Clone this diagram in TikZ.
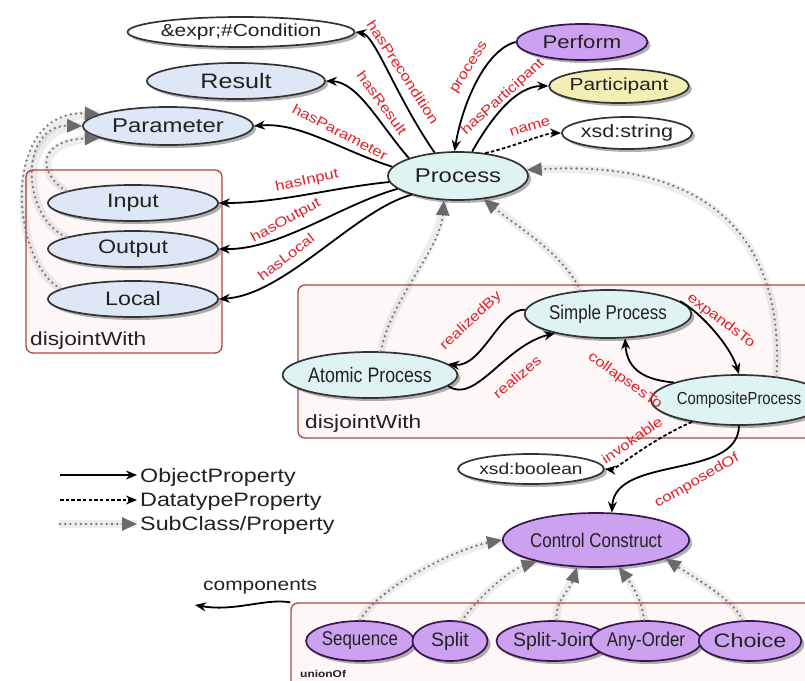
\documentclass[tikz,border=0pt]{standalone}
\usepackage{fontspec}
\setmainfont{Liberation Sans}
\newfontfamily\widesf[FakeStretch=1.2]{Liberation Sans}
\newfontfamily\narrowsf[FakeStretch=0.85]{Liberation Sans}
\usetikzlibrary{arrows.meta,shapes.geometric,shadows}

\definecolor{clsfill}{RGB}{222,231,246}
\definecolor{procfill}{RGB}{224,243,243}
\definecolor{ctrlfill}{RGB}{204,162,240}
\definecolor{ctrldraw}{RGB}{58,22,78}
\definecolor{partfill}{RGB}{243,239,180}
\definecolor{lblred}{RGB}{226,32,40}
\definecolor{boxred}{RGB}{172,72,72}
\definecolor{boxfill}{RGB}{253,247,247}
\definecolor{inkgray}{RGB}{34,34,34}

\tikzset{
  wf/.style={font=\widesf\fontsize{#1}{#1}\selectfont},
  nf/.style={font=\narrowsf\fontsize{#1}{#1}\selectfont},
  rf/.style={font=\fontsize{#1}{#1}\selectfont},
  onto/.style={ellipse, draw=black!80, line width=1.7bp, inner sep=0pt, text=inkgray,
    drop shadow={shadow xshift=3bp, shadow yshift=-3bp, opacity=0.3, fill=black}},
  clsnode/.style={onto, fill=clsfill},
  procnode/.style={onto, fill=procfill},
  ctrlnode/.style={onto, fill=ctrlfill, draw=ctrldraw},
  litnode/.style={onto, fill=white},
  lbl/.style={text=lblred, wf=14, inner sep=0pt},
  legtext/.style={text=inkgray, wf=19.5, inner sep=0pt},
  objarrow/.style={draw=black, line width=1.8bp, -{Stealth[length=11bp,width=9bp]}},
  dtarrow/.style={objarrow, dash pattern=on 3.5bp off 2.2bp},
  subarrow/.style={draw=black!52, line width=2.6bp, line cap=round,
    dash pattern=on 0bp off 5.2bp,
    preaction={draw=black, opacity=0.07, line width=8bp, solid, arrows=-},
    -{Triangle[length=15bp,width=13bp,fill=black!58,color=black!58]}},
  groupbox/.style={draw=boxred, line width=1.3bp, rounded corners=7bp, fill=boxfill, inner sep=0pt},
}

\begin{document}
\begin{tikzpicture}[x=1bp,y=-1bp]
\fill[white] (0,0) rectangle (805,681);
\useasboundingbox (0,0) rectangle (805,681);

% grouping boxes
\node[groupbox, minimum width=196bp, minimum height=183bp] (djA) at (124,261.5) {};
\node[groupbox, minimum width=514bp, minimum height=153bp] (djB) at (555,361.5) {};
\node[groupbox, minimum width=521bp, minimum height=90bp] (unB) at (551.5,648) {};
\node[text=inkgray, wf=19, inner sep=0pt, anchor=base west] (djAt) at (30,345) {disjointWith};
\node[text=inkgray, wf=19, inner sep=0pt, anchor=base west] (djBt) at (305,428) {disjointWith};
\node[text=inkgray, font=\widesf\bfseries\fontsize{10}{10}\selectfont, inner sep=0pt, anchor=base west] (unBt) at (300,677) {unionOf};

% classes
\node[litnode, minimum width=167bp, minimum height=30bp, wf=17.5] (cond) at (241,32) {\&expr;\#Condition};
\node[clsnode, minimum width=178bp, minimum height=36bp, wf=21] (res) at (236,81) {Result};
\node[clsnode, minimum width=170bp, minimum height=38bp, wf=20] (par) at (168,126) {Parameter};
\node[ctrlnode, minimum width=131bp, minimum height=36bp, wf=18.5] (perf) at (582,42) {Perform};
\node[onto, fill=partfill, minimum width=113bp, minimum height=34bp, wf=17.5] (part) at (619,86) {Participant};
\node[litnode, minimum width=102bp, minimum height=32bp, wf=18] (xstr) at (627,133) {xsd:string};
\node[procnode, minimum width=140bp, minimum height=48bp, wf=20] (proc) at (458,176) {Process};
\node[clsnode, minimum width=170bp, minimum height=36bp, wf=19.5] (inp) at (133,203) {Input};
\node[clsnode, minimum width=170bp, minimum height=36bp, wf=19.5] (outp) at (133,249) {Output};
\node[clsnode, minimum width=170bp, minimum height=36bp, wf=19.5] (loc) at (133,299) {Local};
\node[procnode, minimum width=130bp, minimum height=48bp, nf=20] (simp) at (608,314) {Simple Process};
\node[procnode, minimum width=131bp, minimum height=46bp, nf=21] (atom) at (370,375) {Atomic Process};
\node[procnode, minimum width=134bp, minimum height=50bp, nf=17.5] (comp) at (739,400) {CompositeProcess};
\node[litnode, minimum width=101bp, minimum height=30bp, wf=16] (xbool) at (531,469) {xsd:boolean};
\node[ctrlnode, minimum width=133bp, minimum height=54bp, nf=20] (cc) at (596,540) {Control Construct};
\node[ctrlnode, minimum width=85bp, minimum height=40bp, nf=20] (seq) at (360,641) {Sequence};
\node[ctrlnode, minimum width=75bp, minimum height=40bp, rf=19.5] (spl) at (450,641) {Split};
\node[ctrlnode, minimum width=86bp, minimum height=40bp, rf=19.5] (spj) at (553,641) {Split-Join};
\node[ctrlnode, minimum width=84bp, minimum height=40bp, nf=20] (ano) at (646,641) {Any-Order};
\node[ctrlnode, minimum width=101bp, minimum height=40bp, wf=19.5] (cho) at (750,641) {Choice};

% object properties of Process
\draw[objarrow] (proc.135) .. controls (395,95) and (375,35) .. (cond.east);
\draw[objarrow] (proc.160) .. controls (380,125) and (358,82) .. (res.east);
\draw[objarrow] (proc.172) .. controls (340,150) and (300,122) .. (par.east);
\draw[objarrow] (proc.185) .. controls (330,188) and (280,203) .. (inp.east);
\draw[objarrow] (proc.192) .. controls (340,205) and (280,250) .. (outp.east);
\draw[objarrow] (proc.202) .. controls (355,210) and (285,295) .. (loc.east);
\draw[objarrow] (perf.west) .. controls (485,50) and (462,105) .. (proc.98);
\draw[objarrow] (proc.60) .. controls (490,120) and (515,86) .. (part.west);
\draw[dtarrow] (proc.40) .. controls (510,148) and (545,133) .. (xstr.west);

% process kinds
\draw[objarrow] (simp.177) .. controls (500,308) and (482,368) .. (atom.8);
\draw[objarrow] (atom.-8) .. controls (475,405) and (505,345) .. (simp.200);
\draw[objarrow] (simp.10) .. controls (700,312) and (730,345) .. (comp.north);
\draw[objarrow] (comp.165) .. controls (648,380) and (627,372) .. (simp.-55);
\draw[dtarrow] (comp.205) .. controls (650,440) and (615,470) .. (xbool.east);
\draw[objarrow] (comp.-90) .. controls (738,480) and (615,455) .. (cc.60);

% subclass links
\draw[subarrow] (atom.65) .. controls (390,300) and (440,250) .. (proc.-120);
\draw[subarrow] (simp.140) .. controls (565,255) and (515,225) .. (proc.-42);
\draw[subarrow] (comp.32) .. controls (785,230) and (700,160) .. (proc.5);
\draw[subarrow] (loc.172) .. controls (10,260) and (0,110) .. (par.170);
\draw[subarrow] (outp.170) .. controls (20,215) and (20,125) .. (par.180);
\draw[subarrow] (inp.170) .. controls (35,170) and (40,140) .. (par.190);
\draw[subarrow] (seq.north) .. controls (380,585) and (460,548) .. (cc.180);
\draw[subarrow] (spl.60) .. controls (480,595) and (510,570) .. (cc.200);
\draw[subarrow] (spj.80) .. controls (555,600) and (570,590) .. (cc.235);
\draw[subarrow] (ano.95) .. controls (642,600) and (632,585) .. (cc.310);
\draw[subarrow] (cho.110) .. controls (735,600) and (690,575) .. (cc.345);

% components
\coordinate (compend) at (195,605);
\draw[objarrow] (unB.north west) .. controls (265,598) and (235,612) .. (compend);
\node[text=inkgray, wf=17.5, inner sep=0pt, anchor=base west] (compt) at (203,590) {components};

% property labels
\node[lbl, rotate=-57] (lpre) at (403,72) {hasPrecondition};
\node[lbl, rotate=-54] (lres) at (382,103) {hasResult};
\node[lbl, rotate=-27.5] (lpar) at (340,132) {hasParameter};
\node[lbl, rotate=12] (linp) at (307,181) {hasInput};
\node[lbl, rotate=29] (lout) at (286,221) {hasOutput};
\node[lbl, rotate=38] (lloc) at (286,257) {hasLocal};
\node[lbl, rotate=57.5] (lprc) at (470,68) {process};
\node[lbl, rotate=42] (lpart) at (503,97) {hasParticipant};
\node[lbl, rotate=17] (lname) at (530,127) {name};
\node[lbl, rotate=43] (lrby) at (471,321) {realizedBy};
\node[lbl, rotate=40] (lrz) at (517,377) {realizes};
\node[lbl, rotate=-37] (lexp) at (721,321) {expandsTo};
\node[lbl, rotate=-35.5] (lcol) at (625,381) {collapsesTo};
\node[lbl, rotate=35] (linv) at (632,440) {invokable};
\node[lbl, rotate=30] (lcmp) at (697,481) {composedOf};

% legend
\coordinate (lgoa) at (60,475); \coordinate (lgob) at (137,475);
\coordinate (lgda) at (60,500); \coordinate (lgdb) at (137,500);
\coordinate (lgsa) at (60,524); \coordinate (lgsb) at (137,524);
\draw[objarrow] (lgoa) -- (lgob);
\draw[dtarrow] (lgda) -- (lgdb);
\draw[subarrow] (lgsa) -- (lgsb);
\node[legtext, anchor=base west] (lgot) at (140,482) {ObjectProperty};
\node[legtext, anchor=base west] (lgdt) at (140,506) {DatatypeProperty};
\node[legtext, anchor=base west] (lgst) at (140,530) {SubClass/Property};
\end{tikzpicture}
\end{document}
